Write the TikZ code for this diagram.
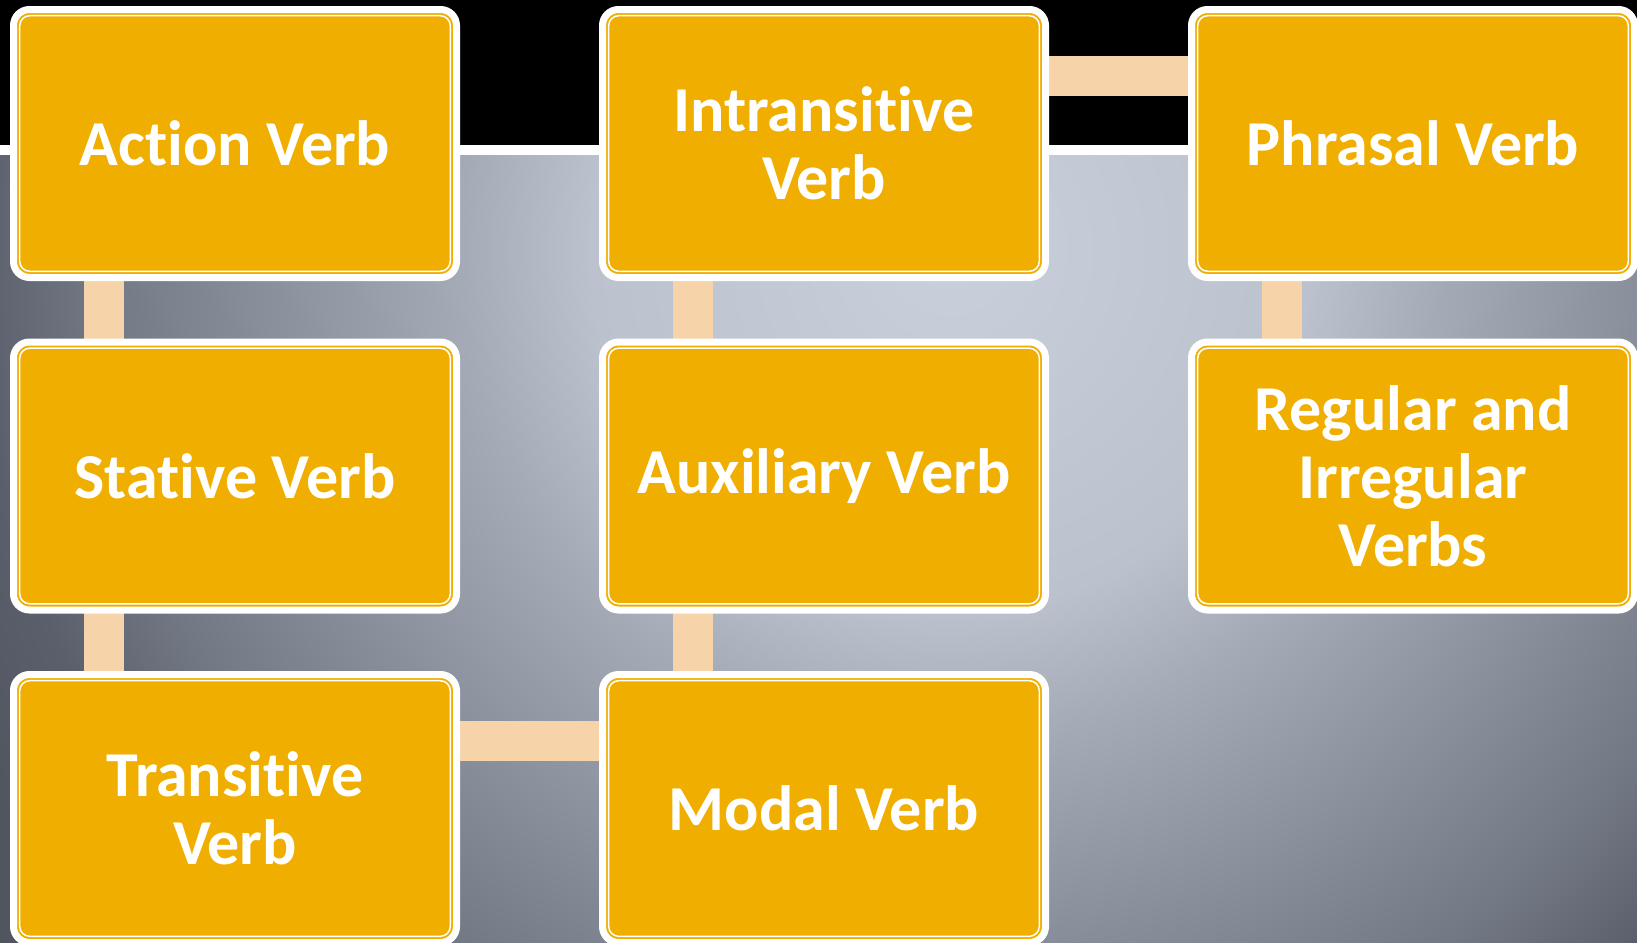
\documentclass[tikz,border=0pt]{standalone}
\usepackage{fontspec}
\setmainfont{Carlito}[Ligatures={NoCommon,NoContextual}, Contextuals=NoAlternate]
\usepackage{tikz}
\usetikzlibrary{positioning}
\definecolor{boxorange}{RGB}{240,174,0}
\definecolor{linkpeach}{RGB}{246,211,168}
\pgfdeclareradialshading{slideshade}{\pgfpoint{0bp}{0bp}}{rgb(0bp)=(.792,.812,.863); rgb(180bp)=(.737,.757,.808); rgb(245bp)=(.647,.667,.718); rgb(425bp)=(.451,.471,.522); rgb(488bp)=(.353,.373,.42); rgb(550bp)=(.314,.333,.376); rgb(650bp)=(.314,.333,.376)}
\pgfdeclarelayer{bg}
\pgfdeclarelayer{links}
\pgfsetlayers{bg,links,main}
\begin{document}
\begin{tikzpicture}[node distance={32.25bp and 73bp},
    box/.style = {draw=white, line width=3.5bp, fill=boxorange, rounded corners=8bp, minimum width=221.5bp, minimum height=134bp, inner sep=0pt, outer sep=0pt, align=center, text=white, font=\bfseries\fontsize{32bp}{34bp}\selectfont,
        path picture={\draw[white, line width=0.75bp, rounded corners=5bp] ([shift={(3.1bp,-3.1bp)}]path picture bounding box.north west) rectangle ([shift={(-3.1bp,3.1bp)}]path picture bounding box.south east);}},
    link/.style = {draw=linkpeach, line width=20bp}]
                \useasboundingbox (0,0) rectangle (818.5bp,-471.5bp);
                \node[box] (act) at (117.5bp,-71.75bp) {Action Verb};
                \node[box] (stat) [below=of act] {Stative Verb};
                \node[box] (trans) [below=of stat] {Transitive\\Verb};
                \node[box] (modal) [right=of trans] {Modal Verb};
                \node[box] (aux) [above=of modal] {Auxiliary Verb};
                \node[box] (intr) [above=of aux] {Intransitive\\Verb};
                \node[box] (phr) [right=of intr] {Phrasal Verb};
                \node[box] (reg) [below=of phr] {Regular and\\Irregular\\Verbs};
                \begin{pgfonlayer}{bg}
                    \fill[black] (0,0) rectangle (818.5bp,-72.5bp);
                    \fill[white] (0,-72.5bp) rectangle (818.5bp,-77.5bp);
                    \begin{scope}
                        \clip (0,-77.5bp) rectangle (818.5bp,-471.5bp);
                        \begin{scope}[shift={(475bp,-125bp)}]
                            \pgftext{\pgfuseshading{slideshade}}
                        \end{scope}
                    \end{scope}
                \end{pgfonlayer}
                \begin{pgfonlayer}{links}
                    \draw[link] ([xshift=-65.75bp]act.south) -- ([xshift=-65.75bp]stat.north);
                    \draw[link] ([xshift=-65.75bp]stat.south) -- ([xshift=-65.75bp]trans.north);
                    \draw[link] ([yshift=33.75bp]trans.east) -- ([yshift=33.75bp]modal.west);
                    \draw[link] ([xshift=-65.75bp]modal.north) -- ([xshift=-65.75bp]aux.south);
                    \draw[link] ([xshift=-65.75bp]aux.north) -- ([xshift=-65.75bp]intr.south);
                    \draw[link] ([yshift=33.75bp]intr.east) -- ([yshift=33.75bp]phr.west);
                    \draw[link] ([xshift=-65.75bp]phr.south) -- ([xshift=-65.75bp]reg.north);
                \end{pgfonlayer}
            \end{tikzpicture}
\end{document}
